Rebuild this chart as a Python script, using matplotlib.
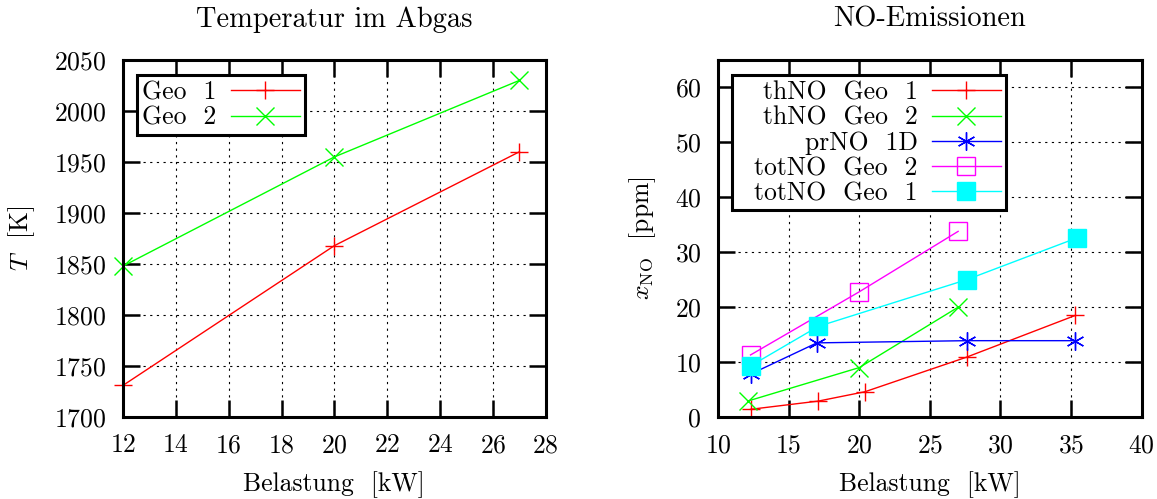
import matplotlib
matplotlib.use("Agg")
import matplotlib.pyplot as plt

plt.rcParams['font.family'] = 'cmr10'
plt.rcParams['mathtext.fontset'] = 'cm'
plt.rcParams['axes.formatter.use_mathtext'] = True
plt.rcParams['font.size'] = 18.5

# Temperatur im Abgas
load_T = [12, 20, 27]
T_geo1 = [1731, 1868, 1960]
T_geo2 = [1848, 1955, 2030]

# NO-Emissionen
load_thno1 = [12.3, 17.1, 20.4, 27.6, 35.3]
thno_geo1 = [1.4, 2.9, 4.6, 10.9, 18.5]
load_thno2 = [12.1, 20.0, 27.0]
thno_geo2 = [2.9, 9.0, 20.0]
load_prno = [12.3, 17.0, 27.6, 35.3]
prno_1d = [7.8, 13.5, 13.9, 13.9]
load_totno2 = [12.3, 20.0, 27.0]
totno_geo2 = [11.3, 22.8, 33.8]
load_totno1 = [12.3, 17.1, 27.6, 35.4]
totno_geo1 = [9.3, 16.5, 25.0, 32.6]


def style_axes(ax):
    for s in ax.spines.values():
        s.set_linewidth(2.2)
    ax.tick_params(direction='in', length=12, width=1.8, top=True, right=True, pad=12)
    ax.grid(True, color='black', linestyle=(0, (2, 4)), linewidth=0.8)
    ax.set_axisbelow(True)


def legend_box(ax, right_align=False):
    leg = ax.legend(loc='upper left', bbox_to_anchor=(0.033, 0.957), markerfirst=False,
                    handlelength=2.7, handletextpad=0.55, labelspacing=0.06,
                    borderpad=0.2, borderaxespad=0, fancybox=False, framealpha=1,
                    edgecolor='black')
    leg.get_frame().set_linewidth(2.2)
    if right_align:
        for col in leg._legend_box.get_children()[1].get_children():
            col.align = 'right'
    return leg


fig = plt.figure(figsize=(11.57, 4.99), dpi=100)
ax1 = fig.add_axes([0.1063, 0.1643, 0.3654, 0.7154])
ax2 = fig.add_axes([0.6206, 0.1643, 0.3662, 0.7154])

ms = 13
ax1.plot(load_T, T_geo1, color='#ff0000', marker='+', ms=ms, lw=1, label='Geo  1', clip_on=False)
ax1.plot(load_T, T_geo2, color='#00ff00', marker='x', ms=ms, lw=1, label='Geo  2', clip_on=False)
ax1.set_xlim(12, 28)
ax1.set_ylim(1700, 2050)
ax1.set_xticks(range(12, 29, 2))
ax1.set_yticks(range(1700, 2051, 50))
ax1.set_xlabel('Belastung  [kW]', labelpad=10)
ax1.set_ylabel(r'$T$  [K]', labelpad=12)
ax1.set_title('Temperatur im Abgas', pad=24, fontsize=20.5)
style_axes(ax1)
legend_box(ax1)

ax2.plot(load_thno1, thno_geo1, color='#ff0000', marker='+', ms=ms, lw=1, label='  thNO  Geo  1')
ax2.plot(load_thno2, thno_geo2, color='#00ff00', marker='x', ms=ms, lw=1, label='  thNO  Geo  2')
ax2.plot(load_prno, prno_1d, color='#0000ff', marker=(6, 2, 0), ms=ms, lw=1, label='  prNO  1D')
ax2.plot(load_totno2, totno_geo2, color='#ff00ff', marker='s', ms=ms, mfc='none', lw=1,
         label='  totNO  Geo  2')
ax2.plot(load_totno1, totno_geo1, color='#00ffff', marker='s', ms=ms, lw=1, label='  totNO  Geo  1')
ax2.set_xlim(10, 40)
ax2.set_ylim(0, 65)
ax2.set_xticks(range(10, 41, 5))
ax2.set_yticks(range(0, 61, 10))
ax2.set_xlabel('Belastung  [kW]', labelpad=10)
ax2.set_ylabel(r'$x_{\rm NO}$  [ppm]', labelpad=12)
ax2.set_title('NO-Emissionen', pad=24, fontsize=20.5)
style_axes(ax2)
legend_box(ax2, right_align=True)

fig.savefig('out.png', dpi=100)
